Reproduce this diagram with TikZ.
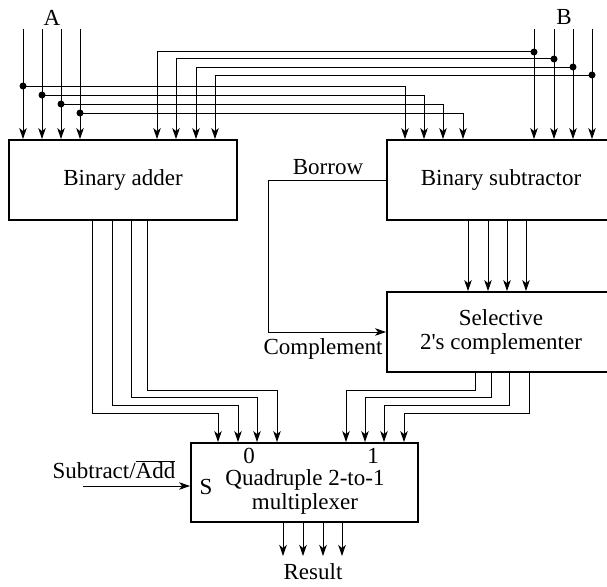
\documentclass[tikz,border=0pt]{standalone}
\usepackage{fontspec}
\setmainfont{LiberationSerif}[Extension=.ttf,UprightFont=*-Regular,BoldFont=*-Bold,ItalicFont=*-Italic,BoldItalicFont=*-BoldItalic]
\usetikzlibrary{arrows.meta,calc}
\begin{document}
\begin{tikzpicture}[x=1pt,y=-1pt,
  font=\fontsize{23}{24}\selectfont,
  wire/.style={line width=1pt},
  arr/.style={wire,-{Stealth[length=11pt,width=7.5pt,inset=3pt]}},
  blk/.style={draw,line width=1.8pt,inner sep=0pt,minimum width=228pt,minimum height=80pt,align=center},
  lbl/.style={inner sep=0pt,align=center},
  dot/.style={circle,fill,inner sep=0pt,minimum size=7pt}]
\useasboundingbox (0,0) rectangle (607,586);

% blocks
\node[blk] (adder) at (123,180) {Binary adder};
\node[blk] (sub) at (501,180) {Binary subtractor};
\node[blk] (comp) at (501,332) {Selective\\2\textquotesingle s complementer};
\node[blk,minimum width=227pt,minimum height=79pt] (mux) at (304.5,482.5) {};
\node[lbl] (muxt) at (305,492) {Quadruple 2-to-1\\multiplexer};
\node[lbl] (m0) at (249,456) {0};
\node[lbl] (m1) at (373,456) {1};
\node[lbl] (msel) at (206,487) {S};

% labels
\node[lbl] (la) at (52,18) {A};
\node[lbl] (lb) at (564,17) {B};
\node[lbl] (lborrow) at (328,167) {Borrow};
\node[lbl] (lcomp) at (323,349) {Complement};
\node[lbl] (lsa) at (114,470) {Subtract/\ensuremath{\overline{\hbox{Add}}}};
\node[lbl] (lres) at (313,572) {Result};

% A inputs
\foreach \x/\y/\t [count=\i] in {23/86/405, 42/95/424, 61/104/443, 80/113/463} {
  \coordinate (a\i) at (\x,29);
  \draw[arr] (a\i) -- (a\i |- adder.north);
  \node[dot] (ad\i) at (\x,\y) {};
  \draw[arr] (ad\i.center) -| (\t,0 |- sub.north);
}
% B inputs
\foreach \x/\y/\t [count=\i] in {534/52/157, 554/59/176, 573/67/196, 592/75/215} {
  \coordinate (b\i) at (\x,29);
  \draw[arr] (b\i) -- (b\i |- sub.north);
  \node[dot] (bd\i) at (\x,\y) {};
  \draw[arr] (bd\i.center) -| (\t,0 |- adder.north);
}
% subtractor -> complementer
\foreach \x in {468,488,507,526}
  \draw[arr] (\x,0 |- sub.south) -- (\x,0 |- comp.north);
% complementer -> mux input 1
\foreach \x/\y/\t in {475/390/346, 491/397/365, 509/405/384, 529/413/404}
  \draw[arr] (\x,0 |- comp.south) |- (\t,\y) -- (\t,0 |- mux.north);
% adder -> mux input 0
\foreach \x/\y/\t in {92/413/218, 112/405/238, 131/397/257, 147/390/277}
  \draw[arr] (\x,0 |- adder.south) |- (\t,\y) -- (\t,0 |- mux.north);
% borrow -> complement
\draw[arr] (sub.west) -- (268,0 |- sub.west) |- (comp.west);
% select
\coordinate (sa) at (83,486);
\draw[arr] (sa) -- (sa -| mux.west);
% result
\foreach \x [count=\i] in {283,303,323,342} {
  \coordinate (r\i) at (\x,556);
  \draw[arr] (\x,0 |- mux.south) -- (r\i);
}
\end{tikzpicture}
\end{document}
